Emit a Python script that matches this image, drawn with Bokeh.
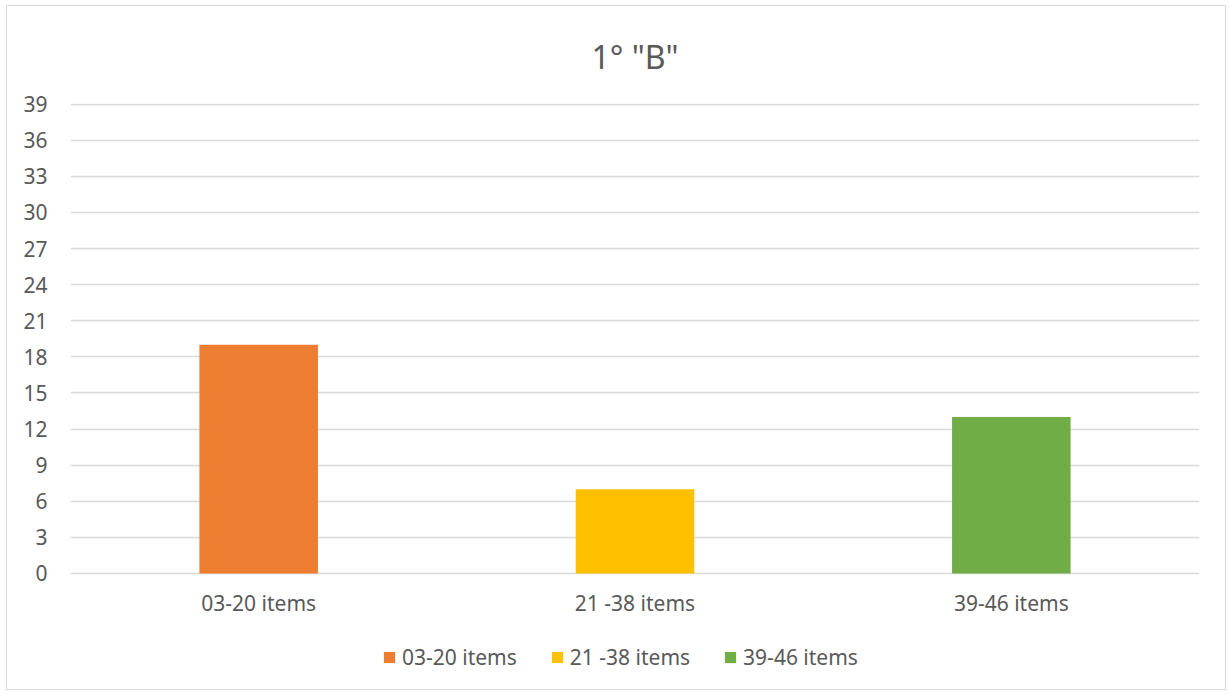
from bokeh.plotting import figure
from bokeh.models import FactorRange, FixedTicker, Range1d
from bokeh.core.properties import value
from bokeh.transform import factor_cmap
from bokeh.embed import file_html
from bokeh.resources import INLINE

categories = ["03-20 items", "21 -38 items", "39-46 items"]
values = [19, 7, 13]
colors = ["#ED7D31", "#FFC000", "#70AD47"]
y_ticks = list(range(0, 40, 3))
title_text = '1° "B"'

FONT = "Noto Sans"
TXT = "#595959"

p = figure(
    x_range=FactorRange(*categories, range_padding=0),
    y_range=Range1d(-8.98, 39.05),
    width=1220, height=685,
    min_border_left=63, min_border_right=28, min_border_top=97, min_border_bottom=10,
    output_backend="svg", toolbar_location=None, tools="",
    title=title_text,
)
p.styles = {"margin-left": "6px", "margin-top": "5px", "border": "1px solid #D9D9D9"}

p.title.align = "center"
p.title.text_font = FONT
p.title.text_font_size = "32px"
p.title.text_font_style = "normal"
p.title.text_color = TXT
p.title.standoff = 52

src = dict(cat=categories, val=values, base=[0] * len(categories))
p.vbar(x="cat", top="val", width=0.315, source=src,
       fill_color=factor_cmap("cat", palette=colors, factors=categories),
       line_color=None, legend_field="cat")

# category labels under the zero line
p.text(x="cat", y="base", text="cat", source=src,
       text_font=value(FONT), text_font_size="21px", text_color=TXT,
       text_align="center", text_baseline="middle", y_offset=30)

p.outline_line_color = None
p.xgrid.grid_line_color = None
p.ygrid.grid_line_color = "#D9D9D9"
p.ygrid.grid_line_width = 1.3
p.yaxis.ticker = FixedTicker(ticks=y_ticks)
p.xaxis.visible = False

ax = p.yaxis
ax.axis_line_color = None
ax.major_tick_line_color = None
ax.minor_tick_line_color = None
ax.major_label_text_font = FONT
ax.major_label_text_font_size = "21px"
ax.major_label_text_color = TXT
ax.major_label_standoff = 17

leg = p.legend[0]
leg.orientation = "horizontal"
leg.location = (312, 10)
leg.border_line_color = None
leg.background_fill_alpha = 0
leg.glyph_width = 14
leg.glyph_height = 14
leg.label_standoff = 6
leg.spacing = 33
leg.padding = 0
leg.margin = 0
leg.label_text_font = FONT
leg.label_text_font_size = "21px"
leg.label_text_color = TXT

open("out.html", "w").write(file_html(p, INLINE))
